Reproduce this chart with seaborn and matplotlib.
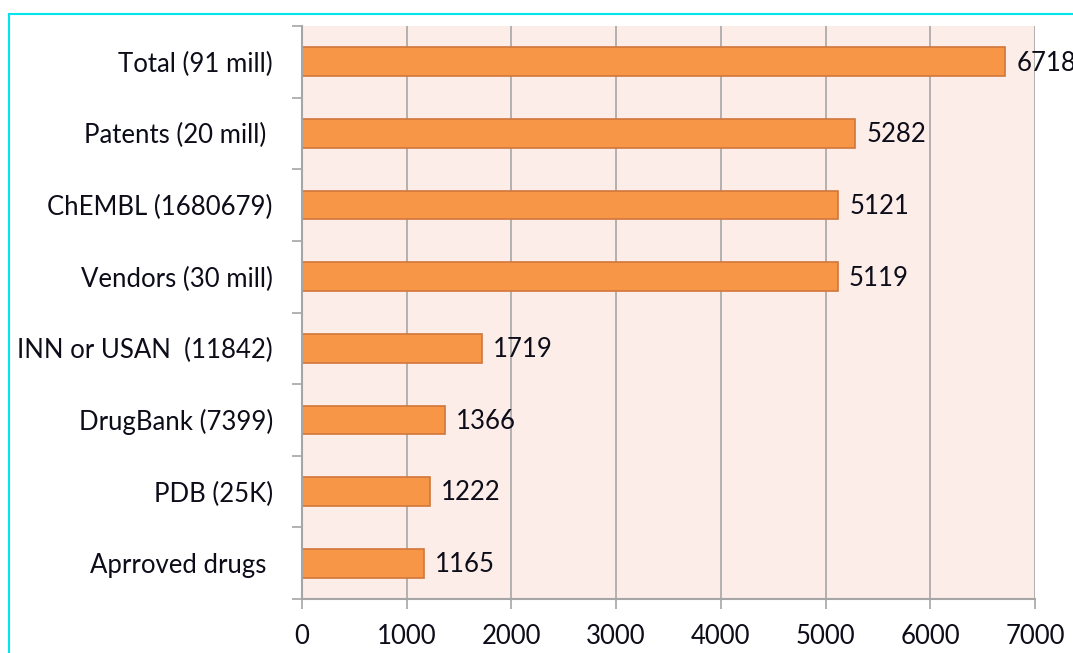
import matplotlib

matplotlib.use("Agg")
import matplotlib.pyplot as plt
import numpy as np
import pandas as pd
import seaborn as sns
from matplotlib.patches import Rectangle

sns.set_theme(style="white")
plt.rcParams["font.family"] = ["Lato", "DejaVu Sans"]

BAR, EDGE, BG, GRID = "#f79646", "#d0773a", "#fcede9", "#a6a6a6"
INK = "#0d0d1a"

categories = ["Total (91 mill)", "Patents (20 mill) ", "ChEMBL (1680679)",
              "Vendors (30 mill)", "INN or USAN  (11842)", "DrugBank (7399)",
              "PDB (25K)", "Aprroved drugs "]
counts = [6718, 5282, 5121, 5119, 1719, 1366, 1222, 1165]

df = pd.DataFrame({"source": categories, "count": counts})

fig = plt.figure(figsize=(10.73, 6.53), dpi=100)
ax = fig.add_axes([302 / 1073, 1 - 599 / 653, 733 / 1073, 573 / 653])
ax.set_facecolor(BG)

sns.barplot(data=df, y="source", x="count", orient="h", color=BAR,
            width=0.4, edgecolor=EDGE, linewidth=1.2, saturation=1, ax=ax)

for i, v in enumerate(counts):
    ax.text(v + 105, i + 0.02, f"{v}", va="center", ha="left", fontsize=18.5,
            color=INK, clip_on=False)

ax.set_xlim(0, 7000)
ax.set_ylim(7.5, -0.5)
ax.set_xticks(np.arange(0, 7001, 1000))
ax.set_xlabel(""); ax.set_ylabel("")
ax.grid(axis="x", color=GRID, lw=1.2)
ax.set_axisbelow(True)

for s in ["top", "right"]:
    ax.spines[s].set_visible(False)
for s in ["left", "bottom"]:
    ax.spines[s].set_color(GRID)
    ax.spines[s].set_linewidth(1.5)

ax.tick_params(axis="x", which="major", length=7, width=1.2, color=GRID,
               direction="out", labelsize=18.5, labelcolor=INK, pad=11,
               bottom=True)
ax.tick_params(axis="y", which="major", length=0, labelsize=18.5,
               labelcolor=INK, pad=21)
ax.set_yticks(np.arange(-0.5, 8, 1), minor=True)
ax.tick_params(axis="y", which="minor", length=7, width=1.2, color=GRID,
               direction="out", left=True)

fig.patches.append(Rectangle((9 / 1073, -0.1), 1.2, 1 - 14 / 653 + 0.1,
                             transform=fig.transFigure, fill=False,
                             edgecolor="#00e5ee", lw=1.5, zorder=0))

fig.savefig("out.png", dpi=100)
